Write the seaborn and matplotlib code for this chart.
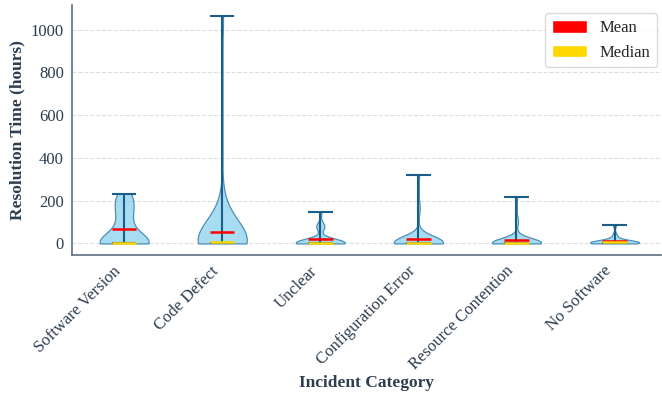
import matplotlib
matplotlib.use('Agg')
import matplotlib.pyplot as plt
from matplotlib.patches import Patch
import numpy as np
import pandas as pd
import seaborn as sns

# incident categories, in plotting order
categories = ['Software Version', 'Code Defect', 'Unclear',
              'Configuration Error', 'Resource Contention', 'No Software']

# resolution times (hours)
software_version = [0, 0, 0, 1, 1, 1, 2, 2, 2, 3, 3, 3, 4, 4, 5,
                    40, 65, 85, 105, 125, 145, 165, 180, 198, 212, 224, 232]
code_defect = [0, 0, 0, 0, 1, 1, 1, 1, 2, 2, 2, 3, 3, 3, 4, 4, 5, 5,
               6, 8, 10, 12, 15, 20, 25, 30, 40, 50, 60, 80, 100, 150, 180, 1062]
unclear = [0, 0, 0, 0, 1, 1, 1, 1, 2, 2, 2, 2, 3, 3, 3, 3, 4, 4, 5, 6,
           8, 10, 12, 15, 72, 78, 82, 86, 147]
configuration_error = [0, 0, 0, 0, 1, 1, 1, 1, 2, 2, 2, 2, 3, 3, 3, 3,
                       4, 4, 4, 4, 5, 5, 5, 5, 6, 6, 6, 7, 7, 8, 9, 10,
                       15, 20, 30, 40, 160, 175, 318]
resource_contention = [0, 0, 0, 0, 1, 1, 1, 1, 2, 2, 2, 2, 3, 3, 3, 3,
                       4, 4, 4, 4, 5, 5, 5, 5, 6, 6, 6, 7, 8, 9,
                       15, 25, 40, 100, 110, 218]
no_software = [0, 0, 1, 1, 2, 2, 3, 3, 4, 4, 5, 5, 5, 6, 6, 7, 8, 10,
               15, 20, 30, 45, 85]

series = [software_version, code_defect, unclear,
          configuration_error, resource_contention, no_software]

rows = []
for cat, vals in zip(categories, series):
    for v in vals:
        rows.append({'Incident Category': cat, 'Resolution Time (hours)': v})
df = pd.DataFrame(rows)

text_color = '#2c3e50'
line_color = '#1b5e8a'

sns.set_style('white')
plt.rcParams['font.family'] = ['Liberation Serif', 'DejaVu Serif']

fig, ax = plt.subplots(figsize=(6.62, 3.95), dpi=100)
sns.violinplot(data=df, x='Incident Category', y='Resolution Time (hours)',
               order=categories, cut=0, inner=None, density_norm='width',
               width=0.5, color='#87CEEB', linecolor='#3d84b0', linewidth=0.9,
               saturation=1, ax=ax)
for coll in ax.collections:
    coll.set_facecolor((0.53, 0.81, 0.92, 0.72))
    coll.set_edgecolor((0.24, 0.52, 0.69, 0.9))

# extrema bars, means and medians like matplotlib's violinplot
for i, vals in enumerate(series):
    arr = np.array(vals, dtype=float)
    ax.vlines(i, arr.min(), arr.max(), color=line_color, lw=1.5, zorder=3)
    ax.hlines([arr.min(), arr.max()], i - 0.125, i + 0.125,
              color=line_color, lw=1.5, zorder=3)
    ax.hlines(arr.mean(), i - 0.125, i + 0.125, color='red', lw=1.8, zorder=4)
    ax.hlines(np.median(arr), i - 0.125, i + 0.125, color='gold', lw=1.8, zorder=4)

ax.set_xlim(-0.53, 5.47)
ax.margins(y=0.05)
ax.yaxis.grid(True, linestyle='--', color='#d5d8dc', alpha=0.8)
ax.set_axisbelow(True)

ax.set_xlabel('Incident Category', fontsize=12.5, fontweight='bold',
              color=text_color, labelpad=1)
ax.set_ylabel('Resolution Time (hours)', fontsize=12.5, fontweight='bold',
              color=text_color)
plt.xticks(rotation=45, ha='right')
ax.tick_params(axis='both', labelsize=12, colors=text_color, length=4,
               width=0.8, pad=2)

sns.despine(ax=ax)
for side in ['left', 'bottom']:
    ax.spines[side].set_color('#5d6d7e')
    ax.spines[side].set_linewidth(1.2)

handles = [Patch(facecolor='red', label='Mean'),
           Patch(facecolor='gold', label='Median')]
ax.legend(handles=handles, loc='upper right', bbox_to_anchor=(1.0, 0.98),
          fontsize=12, frameon=True, edgecolor='#d0d3d4', handlelength=2.1,
          handleheight=0.8, borderaxespad=0.2)

plt.subplots_adjust(left=0.109, right=0.998, top=0.987, bottom=0.355)
plt.savefig('out.png', dpi=100)
